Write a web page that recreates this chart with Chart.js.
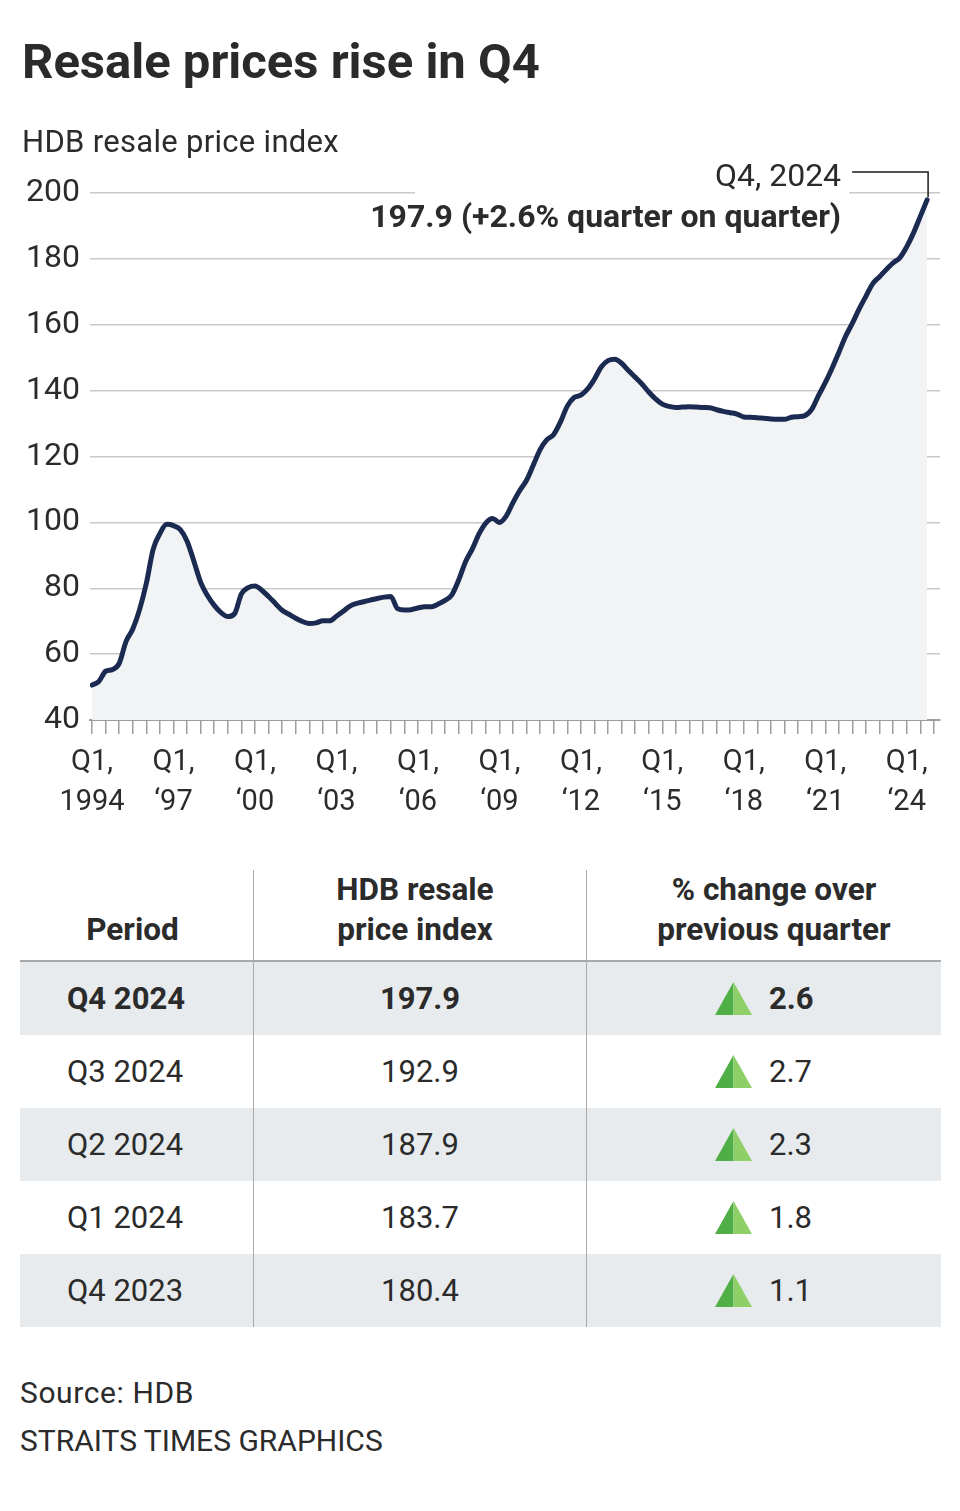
<!DOCTYPE html>
<html>
<head>
<meta charset="utf-8">
<script src="https://cdn.jsdelivr.net/npm/chart.js@4/dist/chart.umd.min.js"></script>
<style>
  html,body{margin:0;padding:0;background:#fff;}
  body{font-family:Roboto,"Noto Sans",sans-serif;color:#2b2b2b;}
  #wrap{position:relative;width:960px;height:1511px;overflow:hidden;background:#fff;}
  #chart{position:absolute;left:0;top:0;}
  .title{position:absolute;left:22px;top:33px;font-size:49px;line-height:58px;font-weight:700;color:#2a2a2a;white-space:nowrap;}
  .ytitle{position:absolute;left:22px;top:123px;font-size:31px;line-height:38px;letter-spacing:0.3px;color:#2b2b2b;white-space:nowrap;}
  #table{position:absolute;left:20px;top:870px;width:921px;}
  .row{display:grid;grid-template-columns:233px 333px 355px;}
  .head{height:92px;border-bottom:2px solid #a9a9a9;box-sizing:border-box;}
  .head div{display:flex;align-items:flex-end;justify-content:center;text-align:center;font-weight:700;font-size:31.5px;line-height:40px;padding-bottom:14px;box-sizing:border-box;}
  .head div:first-child{padding-right:8px;}
  .head div:nth-child(2){padding-right:10px;}
  .head div:nth-child(3){padding-left:20px;}
  .body{height:73px;font-size:31px;}
  .body div{display:flex;align-items:center;box-sizing:border-box;}
  .row > div:nth-child(2), .row > div:nth-child(3){border-left:1.5px solid #a9a9a9;}
  .shade{background:#e8ebed;}
  .c1{padding-left:47px;}
  .c2{justify-content:center;}
  .c3{padding-left:128px;}
  .c3 svg{margin-right:17px;}
  .bold{font-weight:700;}
  .foot{position:absolute;left:20px;top:1369px;font-size:30px;line-height:48px;color:#2b2b2b;}
  .foot span{letter-spacing:0.6px;}
</style>
</head>
<body>
<div id="wrap">
  <canvas id="chart" width="960" height="830"></canvas>
  <div class="title">Resale prices rise in Q4</div>
  <div class="ytitle">HDB resale price index</div>
  <div id="table"></div>
  <div class="foot"><span>Source: HDB</span><br>STRAITS TIMES GRAPHICS</div>
</div>
<script>
// ---- Chart data: HDB resale price index, quarterly Q1 1994 .. Q4 2024 ----
const startYear = 1994;
const hdbIndex = [
  // 1994
  50.6, 51.7, 54.8, 55.3,
  // 1995
  57.2, 63.8, 67.6, 73.5,
  // 1996
  81.5, 91.8, 96.6, 99.4,
  // 1997
  99.0, 97.8, 94.3, 88.2,
  // 1998
  81.8, 77.8, 74.8, 72.6,
  // 1999
  71.4, 72.3, 78.3, 80.2,
  // 2000
  80.7, 79.4, 77.5, 75.4,
  // 2001
  73.3, 72.1, 70.9, 69.9,
  // 2002
  69.3, 69.5, 70.1, 70.1,
  // 2003
  71.5, 73.0, 74.6, 75.4,
  // 2004
  75.9, 76.4, 76.9, 77.3,
  // 2005
  77.5, 73.8, 73.4, 73.5,
  // 2006
  74.0, 74.4, 74.4, 75.2,
  // 2007
  76.3, 78.0, 82.5, 88.0,
  // 2008
  91.9, 96.5, 99.8, 101.2,
  // 2009
  100.0, 101.9, 106.0, 109.7,
  // 2010
  112.8, 117.4, 122.1, 125.1,
  // 2011
  126.7, 130.5, 135.3, 137.9,
  // 2012
  138.6, 140.5, 143.5, 147.2,
  // 2013
  149.1, 149.5, 148.3, 146.1,
  // 2014
  144.1, 142.0, 139.6, 137.5,
  // 2015
  135.9, 135.2, 134.9, 135.0,
  // 2016
  135.1, 135.0, 134.9, 134.8,
  // 2017
  134.2, 133.7, 133.3, 132.9,
  // 2018
  132.0, 131.9, 131.8, 131.6,
  // 2019
  131.4, 131.3, 131.3, 131.9,
  // 2020
  132.1, 132.4, 134.3, 138.5,
  // 2021
  142.4, 146.8, 151.6, 156.5,
  // 2022
  160.5, 164.8, 168.7, 172.5,
  // 2023
  174.6, 176.8, 178.8, 180.4,
  // 2024
  183.7, 187.9, 192.9, 197.9
];
const xLabelYears = ['1994', '\u201897', '\u201800', '\u201803', '\u201806', '\u201809', '\u201812', '\u201815', '\u201818', '\u201821', '\u201824'];
const yTicks = [40, 60, 80, 100, 120, 140, 160, 180, 200];
const annotTop = 'Q4, 2024';
const annotBottom = '197.9 (+2.6% quarter on quarter)';

// ---- Table data ----
const tablePeriods = ['Q4 2024', 'Q3 2024', 'Q2 2024', 'Q1 2024', 'Q4 2023'];
const tableIndex = ['197.9', '192.9', '187.9', '183.7', '180.4'];
const tableChange = ['2.6', '2.7', '2.3', '1.8', '1.1'];
const tableHeaders = ['Period', 'HDB resale<br>price index', '% change over<br>previous quarter'];

// ---- Build table ----
const tri = '<svg width="37" height="33" viewBox="0 0 37 33"><polygon points="18.5,0 0,33 18.5,33" fill="#4fae46"/><polygon points="18.5,0 37,33 18.5,33" fill="#8fcf68"/></svg>';
let html = '<div class="row head">' + tableHeaders.map(h => '<div>' + h + '</div>').join('') + '</div>';
tablePeriods.forEach((p, i) => {
  const cls = (i % 2 === 0 ? ' shade' : '') + (i === 0 ? ' bold' : '');
  html += '<div class="row body' + cls + '"><div class="c1">' + p + '</div><div class="c2">' + tableIndex[i] + '</div><div class="c3">' + tri + tableChange[i] + '</div></div>';
});
document.getElementById('table').innerHTML = html;

// ---- Annotation plugin ----
const annotPlugin = {
  id: 'annot',
  beforeDatasetsDraw(chart) {
    const {ctx, scales: {x, y}} = chart;
    const lastX = x.getPixelForValue(hdbIndex.length - 1);
    const yy = y.getPixelForValue(200);
    ctx.save();
    ctx.fillStyle = '#ffffff';
    ctx.fillRect(lastX - 512, yy - 3, 434, 6);
    ctx.restore();
  },
  afterDatasetsDraw(chart) {
    const {ctx, scales: {x, y}} = chart;
    const n = hdbIndex.length - 1;
    const lastX = x.getPixelForValue(n);
    const lastY = y.getPixelForValue(hdbIndex[n]);
    const yy = y.getPixelForValue(200);
    const right = lastX - 86;
    ctx.save();
    ctx.fillStyle = '#2b2b2b';
    ctx.textAlign = 'right';
    ctx.textBaseline = 'middle';
    ctx.font = '400 32px Roboto';
    ctx.fillText(annotTop, right, yy - 15);
    ctx.font = '700 32px Roboto';
    ctx.fillText(annotBottom, right, yy + 26);
    ctx.strokeStyle = '#1a1a1a';
    ctx.lineWidth = 1.5;
    ctx.beginPath();
    ctx.moveTo(right + 11, yy - 21);
    ctx.lineTo(lastX + 1, yy - 21);
    ctx.lineTo(lastX + 1, lastY - 3);
    ctx.stroke();
    ctx.restore();
  }
};

new Chart(document.getElementById('chart'), {
  type: 'line',
  data: {
    datasets: [{
      data: hdbIndex.map((v, i) => ({x: i, y: v})),
      borderColor: '#1b2a50',
      borderWidth: 5,
      pointRadius: 0,
      fill: 'start',
      backgroundColor: '#f1f3f5',
      cubicInterpolationMode: 'monotone',
      borderJoinStyle: 'round',
      borderCapStyle: 'round'
    }]
  },
  options: {
    responsive: false,
    animation: false,
    devicePixelRatio: 1,
    layout: {padding: {top: 193, right: 20, left: 0, bottom: 0}},
    plugins: {legend: {display: false}, tooltip: {enabled: false}},
    scales: {
      x: {
        type: 'linear',
        min: -0.3,
        max: 124.9,
        afterBuildTicks: s => { const t = []; for (let v = 0; v <= hdbIndex.length; v += 2) t.push({value: v}); s.ticks = t; },
        afterFit: s => { s.height = 110; },
        grid: {display: true, drawOnChartArea: false, drawTicks: true, tickLength: 14, color: '#9d9d9d', lineWidth: 1.5},
        border: {display: true, color: '#9d9d9d', width: 2},
        ticks: {
          autoSkip: false, maxRotation: 0, minRotation: 0, padding: 8,
          color: '#2b2b2b',
          font: {family: 'Roboto', size: 29, lineHeight: 1.4},
          callback: v => (v % 12 === 0 && xLabelYears[v / 12] !== undefined) ? ['Q1,', xLabelYears[v / 12]] : ''
        }
      },
      y: {
        min: 40,
        max: 200,
        afterBuildTicks: s => { s.ticks = yTicks.map(v => ({value: v})); },
        afterFit: s => { s.width = 90; },
        grid: {color: '#c9c9c9', lineWidth: 1.5, drawTicks: false},
        border: {display: false},
        ticks: {padding: 10, color: '#2b2b2b', font: {family: 'Roboto', size: 32}}
      }
    }
  },
  plugins: [annotPlugin]
});
</script>
</body>
</html>
